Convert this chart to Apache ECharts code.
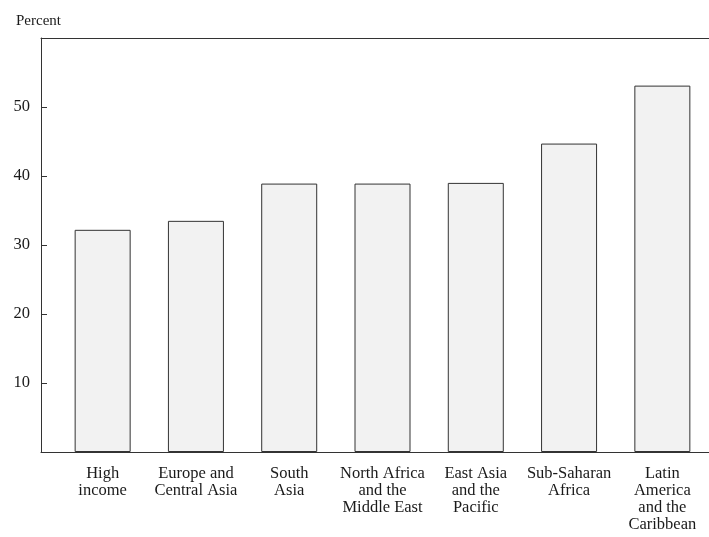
<!DOCTYPE html>
<html>
<head>
<meta charset="utf-8">
<script src="https://cdn.jsdelivr.net/npm/echarts@6/dist/echarts.min.js"></script>
<style>
  html, body { margin: 0; padding: 0; background: #fff; }
  #chart { width: 709px; height: 537px; }
</style>
</head>
<body>
<div id="chart"></div>
<script>
const categories = [
  "High\nincome",
  "Europe and\nCentral Asia",
  "South\nAsia",
  "North Africa\nand the\nMiddle East",
  "East Asia\nand the\nPacific",
  "Sub-Saharan\nAfrica",
  "Latin\nAmerica\nand the\nCaribbean"
];
const values = [32.2, 33.5, 38.9, 38.9, 39.0, 44.7, 53.1];
const yTickLabels = ["10", "20", "30", "40", "50"];
const yTitle = "Percent";

const serif = '"Liberation Serif", "DejaVu Serif", serif';
const frameLine = { show: true, lineStyle: { color: '#333', width: 1 } };
const chart = echarts.init(document.getElementById('chart'), null, { renderer: 'canvas' });

chart.setOption({
  animation: false,
  backgroundColor: '#ffffff',
  title: {
    text: yTitle,
    left: 11,
    top: 9,
    textStyle: { fontFamily: serif, fontSize: 15, fontWeight: 'normal', color: '#1a1a1a' }
  },
  grid: [
    { left: 41, right: 0, top: 38, bottom: 85 },
    { left: 56, right: -1, top: 38, bottom: 85 }
  ],
  xAxis: [
    { gridIndex: 0, type: 'value', position: 'bottom', min: 0, max: 1,
      axisLine: frameLine, axisTick: { show: false }, axisLabel: { show: false }, splitLine: { show: false } },
    { gridIndex: 0, type: 'value', position: 'top', min: 0, max: 1,
      axisLine: frameLine, axisTick: { show: false }, axisLabel: { show: false }, splitLine: { show: false } },
    {
      gridIndex: 1,
      type: 'category',
      data: categories,
      axisLine: { show: false },
      axisTick: { show: false },
      axisLabel: {
        interval: 0,
        margin: 13,
        fontFamily: serif,
        fontSize: 16.5,
        lineHeight: 17,
        color: '#1a1a1a',
        align: 'center'
      }
    }
  ],
  yAxis: [
    { gridIndex: 0, type: 'value', show: false, min: 0, max: 1 },
    {
      gridIndex: 1,
      type: 'value',
      min: 0,
      max: 60,
      interval: 10,
      offset: 15,
      axisLine: frameLine,
      axisTick: { show: true, inside: true, length: 6, lineStyle: { color: '#333', width: 1 } },
      splitLine: { show: false },
      axisLabel: {
        margin: 11,
        fontFamily: serif,
        fontSize: 16.5,
        color: '#1a1a1a',
        formatter: function (v) {
          const s = String(v);
          return yTickLabels.indexOf(s) >= 0 ? s : '';
        }
      }
    }
  ],
  series: [
    {
      type: 'bar',
      xAxisIndex: 2,
      yAxisIndex: 1,
      data: values,
      barWidth: 56,
      itemStyle: { color: '#f2f2f2', borderColor: '#333', borderWidth: 1 }
    }
  ]
});
</script>
</body>
</html>
